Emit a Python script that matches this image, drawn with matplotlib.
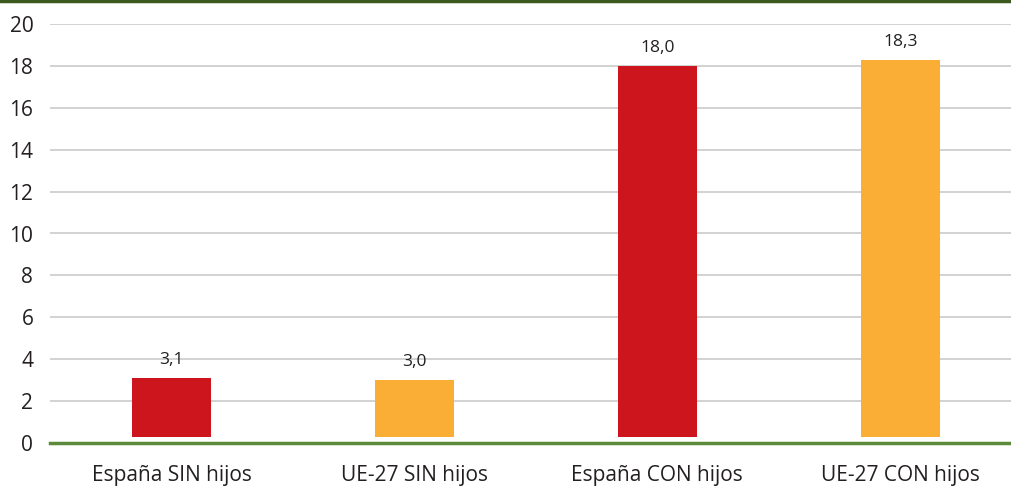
import matplotlib.pyplot as plt
from matplotlib.lines import Line2D

# data
categorias = ['España SIN hijos', 'UE-27 SIN hijos', 'España CON hijos', 'UE-27 CON hijos']
valores = [3.1, 3.0, 18.0, 18.3]
etiquetas = ['3,1', '3,0', '18,0', '18,3']
colores = ['#CD151E', '#FBAE36', '#CD151E', '#FBAE36']
yticks = [0, 2, 4, 6, 8, 10, 12, 14, 16, 18, 20]

plt.rcParams['font.family'] = ['Open Sans', 'DejaVu Sans']

fig = plt.figure(figsize=(10.12, 4.90), dpi=100)
ax = fig.add_axes([50 / 1012, 47 / 490, 962 / 1012, 419 / 490])

base = 0.3  # bars in the original sit slightly above the zero line
x = range(len(categorias))
ax.bar(x, [v - base for v in valores], bottom=base, width=0.325, color=colores, zorder=3)

for i, v in enumerate(valores):
    ax.annotate(etiquetas[i], (i, v), xytext=(0, 7), textcoords='offset points',
                ha='center', va='bottom', fontsize=12.5, color='#231f20')

ax.set_xlim(-0.5, 3.46)
ax.set_ylim(0, 20)
ax.set_yticks(yticks)
ax.set_xticks(list(x))
ax.set_xticklabels(categorias)
ax.tick_params(axis='y', length=0, pad=12, labelsize=15, labelcolor='#231f20')
ax.tick_params(axis='x', length=0, pad=16, labelsize=15, labelcolor='#231f20')

ax.grid(axis='y', color='#cfcfcf', linewidth=1.3, zorder=0)
ax.axhline(0, color='#5b8a3a', linewidth=2.5, zorder=4, clip_on=False)
for s in ax.spines.values():
    s.set_visible(False)

# dark green rule across the top of the figure
fig.add_artist(Line2D([0, 1], [0.997, 0.997], transform=fig.transFigure,
                      color='#3d5a1e', linewidth=2.5))

fig.savefig('out.png', dpi=100)
